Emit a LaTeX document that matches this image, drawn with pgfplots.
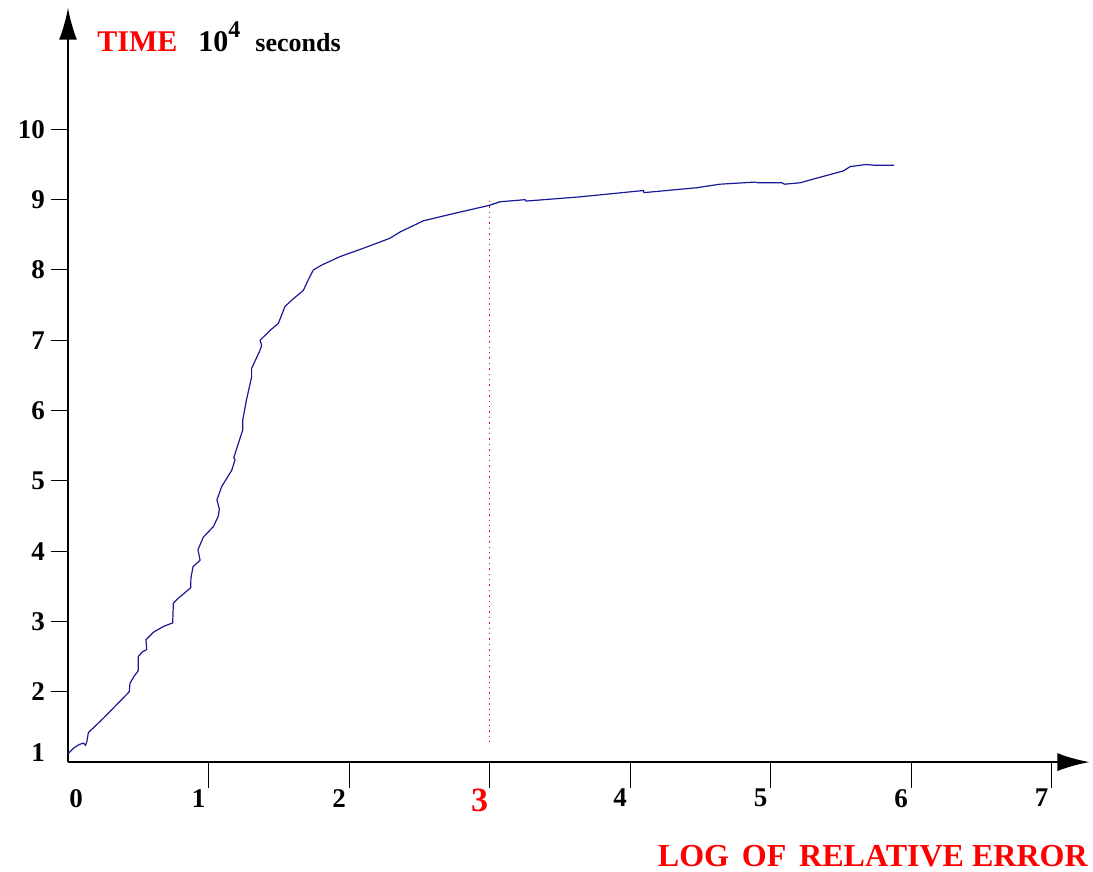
\documentclass[border=0pt]{standalone}
\usepackage{fontspec}
\setmainfont{Liberation Serif}
\usepackage{pgfplots}
\pgfplotsset{compat=1.18}
\usetikzlibrary{arrows.meta}
\definecolor{curve}{RGB}{25,25,150}

\pgfplotsset{chartbox/.style={
    scale only axis,
    width=510.5pt, height=377pt,
    xmin=0, xmax=7.27,
    ymin=1, ymax=11.73,
}}

\begin{document}
\begin{tikzpicture}
\begin{axis}[
    chartbox,
    axis lines=left,
    tick align=outside,
    axis line style={line width=1pt, -{Latex[length=16pt,width=9pt]}},
    xtick={1,...,7},
    xticklabels={1,2,{\color{red}\fontsize{17}{19}\selectfont\raisebox{-3pt}{3}},4,5,6,7},
    ytick={2,...,10},
    extra x ticks={0},
    extra x tick labels={0},
    extra x tick style={tick style={draw=none}, xticklabel style={xshift=9pt}},
    extra y ticks={1},
    extra y tick labels={1},
    extra y tick style={yticklabel style={yshift=5pt}},
    major tick length=13pt,
    x tick style={line width=0.5pt, black},
    y tick style={draw=none},
    xticklabel style={xshift=-5pt, yshift=3pt},
    yticklabel style={xshift=5pt},
    ticklabel style={font=\bfseries\fontsize{13.5}{15}\selectfont},
    /pgf/number format/assume math mode=true,
    clip=false,
]

% invisible frame fixing the page size
\path (axis cs:-0.484,-0.55) rectangle (axis cs:7.295,11.84);

% dotted marker at log error 3
\addplot[red, dotted, line width=0.7pt] coordinates {(3,1.28) (3,9.0)};

\addplot[curve, line width=0.6pt] coordinates {
(0.00,1.12) (0.04,1.20) (0.08,1.25) (0.11,1.27) (0.125,1.24) (0.135,1.30)
(0.145,1.42) (0.25,1.62) (0.436,2.00) (0.441,2.12) (0.47,2.22) (0.50,2.30)
(0.50,2.50) (0.53,2.57) (0.56,2.60) (0.555,2.74) (0.61,2.85) (0.68,2.93)
(0.745,2.98) (0.75,3.26) (0.785,3.33) (0.873,3.48) (0.875,3.62) (0.89,3.78)
(0.94,3.87) (0.925,4.02) (0.963,4.20) (1.035,4.35) (1.07,4.50) (1.077,4.60)
(1.06,4.73) (1.094,4.92) (1.165,5.15) (1.189,5.30) (1.18,5.33) (1.212,5.53)
(1.243,5.72) (1.243,5.86) (1.27,6.15) (1.307,6.48) (1.307,6.60) (1.367,6.86)
(1.378,6.93) (1.367,7.00) (1.438,7.14) (1.497,7.24) (1.544,7.48) (1.592,7.57)
(1.675,7.71) (1.71,7.86) (1.746,8.00) (1.806,8.07) (1.936,8.19) (2.09,8.30)
(2.29,8.45) (2.363,8.54) (2.53,8.70) (2.74,8.80) (3.00,8.92) (3.075,8.97)
(3.253,9.00) (3.26,8.98) (3.644,9.04) (4.095,9.13) (4.10,9.10) (4.475,9.17)
(4.64,9.22) (4.89,9.25) (4.91,9.24) (5.08,9.24) (5.10,9.22) (5.21,9.24)
(5.30,9.29) (5.52,9.41) (5.566,9.47) (5.68,9.50) (5.74,9.49) (5.88,9.49)
};

\node[anchor=base west, inner sep=0pt, font=\bfseries\fontsize{15}{17}\selectfont]
  at (axis cs:0.206,11.11) {\textcolor{red}{TIME}\hspace{0.7em}10\raisebox{7pt}{\fontsize{12}{14}\selectfont 4}\hspace{0.5em}{\fontsize{13}{15}\selectfont seconds}};
\node[anchor=base east, inner sep=0pt, text=red, font=\bfseries\fontsize{16}{18}\selectfont]
  at (axis cs:7.26,-0.48) {LOG\hspace{0.15em} OF\hspace{0.15em} RELATIVE ERROR};
\end{axis}

% second layer: the shorter y ticks only
\begin{axis}[
    chartbox,
    axis x line=none,
    axis y line=left,
    tick align=outside,
    y axis line style={draw=none},
    ytick={2,...,10},
    yticklabels={},
    major tick length=8.5pt,
    y tick style={line width=0.5pt, black},
]
\end{axis}
\end{tikzpicture}
\end{document}
